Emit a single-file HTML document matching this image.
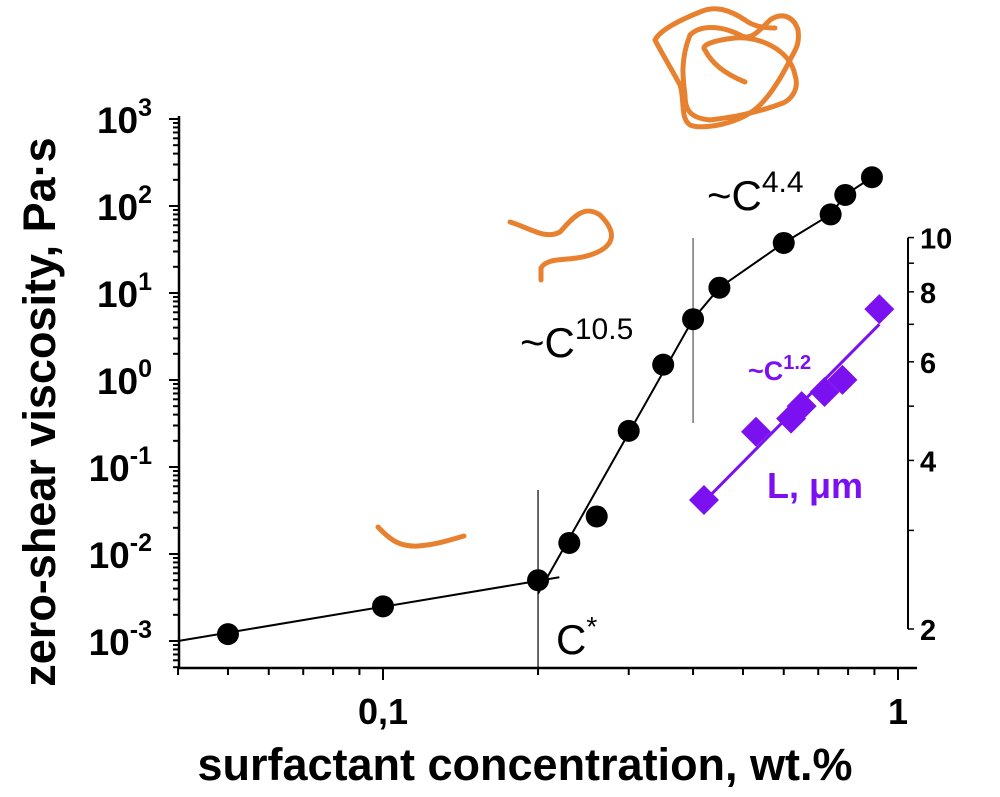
<!DOCTYPE html>
<html><head><meta charset="utf-8"><style>
html,body{margin:0;padding:0;background:#fff;}
svg{display:block;font-family:"Liberation Sans",Arial,sans-serif;}
</style></head><body>
<svg id="chart" width="1000" height="797" viewBox="0 0 1000 797">
<g id="deco" fill="none" stroke="#E8812F" stroke-width="5" stroke-linecap="round">
<path d="M378,527 C390,540 400,547 418,546 C435,545 450,540 464,536"/>
<path d="M510,222 C530,228 545,240 560,232 C575,215 585,205 600,215 C620,235 612,248 590,255 C570,262 548,256 541,268 L541,280"/>
<path d="M745,82 C720,72 710,60 705,50 C700,45 715,40 735,38 C760,36 790,50 795,75 C800,90 790,100 783,103 C770,108 745,116 710,120 C690,118 685,110 685,95 C683,80 680,60 690,35 C700,25 720,25 740,35 C750,42 760,30 770,20 C785,10 795,20 798,30 C800,45 795,50 790,60 C780,80 770,95 760,105 C740,125 700,130 690,125 C680,118 685,100 680,85 C672,70 660,50 655,40 C660,30 680,20 700,12 C715,5 730,10 745,20 C752,25 760,28 775,28"/>
</g>
<g id="plot"></g>
<text x="520" y="357" font-size="42">~C<tspan font-size="30" dy="-18">10.5</tspan></text>
<text x="707" y="210" font-size="42">~C<tspan font-size="30" dy="-18">4.4</tspan></text>
<text x="556" y="654" font-size="42">C<tspan font-size="28" dy="-18">*</tspan></text>
<text x="748" y="380" font-size="27" font-weight="bold" fill="#7B10F0">~C<tspan font-size="20" dy="-11">1.2</tspan></text>
<text x="767" y="498" font-size="36" font-weight="bold" fill="#7B10F0">L, μm</text>
<text transform="translate(55,412) rotate(-90)" text-anchor="middle" font-size="45" font-weight="bold">zero-shear viscosity, Pa·s</text>
<text x="525" y="780" text-anchor="middle" font-size="45" font-weight="bold">surfactant concentration, wt.%</text>
</svg>
<script>
const concentrations = [0.05, 0.1, 0.2, 0.23, 0.26, 0.30, 0.35, 0.40, 0.45, 0.60, 0.74, 0.79, 0.89];
const viscosities = [0.0012, 0.0025, 0.005, 0.0134, 0.027, 0.26, 1.5, 5.0, 11.5, 37.6, 80, 134, 214];
const lengthConc = [0.42, 0.53, 0.62, 0.65, 0.72, 0.78, 0.92];
const lengths = [3.4, 4.5, 4.75, 5.0, 5.3, 5.57, 7.45];
const fitLowX = [0.04, 0.22];
const fitLowY = [0.001, 0.0054];
const fitMidX = [0.2, 0.4];
const fitMidY = [0.0035, 5];
const fitLX = [0.43, 0.92];
const fitLY = [3.45, 7.0];
const xTicksMajor = [0.1, 1];
const xTickLabels = ["0,1", "1"];
const yTickExp = [-3, -2, -1, 0, 1, 2, 3];
const rTicks = [2, 4, 6, 8, 10];

const NS = "http://www.w3.org/2000/svg";
const g = document.getElementById('plot');
const X0 = 179, XDEC = 515, X1 = 917;
const Y0 = 668, YREF = 641, YDEC = 87;
const fx = c => 383 + (Math.log10(c) + 1) * XDEC;
const fy = v => YREF - (Math.log10(v) + 3) * YDEC;
const fr = l => 629 - (Math.log10(l) - Math.log10(2)) * 560;
function mk(tag, attrs, parent) { const e = document.createElementNS(NS, tag); for (const k in attrs) e.setAttribute(k, attrs[k]); (parent || g).appendChild(e); return e; }

let e = mk('line', {x1: X0, y1: Y0, x2: X1, y2: Y0, stroke: '#000', 'stroke-width': 2.5});


e = mk('line', {x1: X0, y1: Y0, x2: X0, y2: fy(1000) - 3, stroke: '#000', 'stroke-width': 2.5});


e = mk('line', {x1: 908, y1: fr(10), x2: 908, y2: fr(2), stroke: '#000', 'stroke-width': 2});



for (let d = -2; d <= 0; d++) for (let m = 1; m <= 9; m++) {
  const c = m * Math.pow(10, d); const x = fx(c);
  if (x < X0 - 1 || x > X1) continue;
  e = mk('line', {x1: x, y1: Y0, x2: x, y2: Y0 + (m === 1 ? 12 : 7), stroke: '#000', 'stroke-width': 2});
  
  
}
xTicksMajor.forEach((c, i) => {
  e = mk('text', {x: fx(c), y: 724, 'text-anchor': 'middle', 'font-size': 36, 'font-weight': 'bold'});
  e.textContent = xTickLabels[i];
  
  
});
for (let d = -4; d <= 2; d++) for (let m = 1; m <= 9; m++) {
  const v = m * Math.pow(10, d); const y = fy(v);
  if (y > Y0 || y < fy(1000) - 1) continue;
  e = mk('line', {x1: X0, y1: y, x2: X0 - (m === 1 ? 10 : 6), y2: y, stroke: '#000', 'stroke-width': 2});
  
  
}
mk('line', {x1: X0, y1: fy(1000), x2: X0 - 10, y2: fy(1000), stroke: '#000', 'stroke-width': 2});
yTickExp.forEach(p => {
  e = mk('text', {x: 152, y: fy(Math.pow(10, p)) + 14, 'text-anchor': 'end', 'font-size': 37, 'font-weight': 'bold'});
  e.innerHTML = '10<tspan font-size="25" dy="-17">' + p + '</tspan>';
  
  
});
for (let l = 2; l <= 10; l++) {
  e = mk('line', {x1: 908, y1: fr(l), x2: 908 + 6, y2: fr(l), stroke: '#000', 'stroke-width': 1.5});
  
  
}
rTicks.forEach(l => {
  e = mk('text', {x: 920, y: fr(l) + 11, 'font-size': 29, 'font-weight': 'bold'});
  e.textContent = l;
  
  
});

e = mk('line', {x1: fx(0.2), y1: 490, x2: fx(0.2), y2: Y0, stroke: '#000', 'stroke-width': 1.2});


e = mk('line', {x1: fx(0.4), y1: 238, x2: fx(0.4), y2: 423, stroke: '#555', 'stroke-width': 1.2});



e = mk('line', {x1: fx(fitLowX[0]), y1: fy(fitLowY[0]), x2: fx(fitLowX[1]), y2: fy(fitLowY[1]), stroke: '#000', 'stroke-width': 2});


e = mk('line', {x1: fx(fitMidX[0]), y1: fy(fitMidY[0]), x2: fx(fitMidX[1]), y2: fy(fitMidY[1]), stroke: '#000', 'stroke-width': 2});


const hi = concentrations.map((c, i) => [c, viscosities[i]]).filter(p => p[0] >= 0.4);
e = mk('polyline', {points: hi.map(p => fx(p[0]) + ',' + fy(p[1])).join(' '), fill: 'none', stroke: '#000', 'stroke-width': 2});


e = mk('line', {x1: fx(fitLX[0]), y1: fr(fitLY[0]), x2: fx(fitLX[1]), y2: fr(fitLY[1]), stroke: '#7B10F0', 'stroke-width': 3});



concentrations.forEach((c, i) => {
  e = mk('circle', {cx: fx(c), cy: fy(viscosities[i]), r: 11, fill: '#000'});
  
  
});
lengthConc.forEach((c, i) => {
  const x = fx(c), y = fr(lengths[i]), s = 15;
  e = mk('polygon', {points: `${x},${y - s} ${x + s},${y} ${x},${y + s} ${x - s},${y}`, fill: '#7B10F0'});
  
  
});
</script>
</body></html>
